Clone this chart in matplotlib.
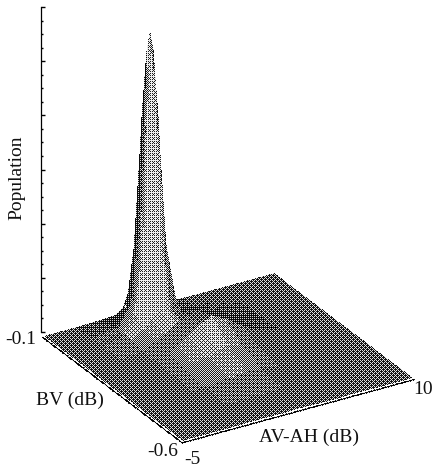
import numpy as np
import matplotlib
matplotlib.use("Agg")
import matplotlib.pyplot as plt

# Values
av_ah = [-5, -3, -1.5, -0.7, -0.2, 0.2, 0.4, 0.6, 0.8, 1.0, 1.4, 2.1, 3, 4, 5, 6.5, 8, 10]
bv = [-0.6, -0.52, -0.44, -0.37, -0.31, -0.26, -0.22, -0.1967, -0.1833, -0.1767,
      -0.17, -0.1633, -0.1567, -0.1433, -0.12, -0.1]
population = [
    [.01, .01, .01, .02, .01, .02, .01, .02, .01, .02, .01, .02, .02, .01, .01, .02, .01, .01],
    [.01, .01, .01, .015, .02, .02, .025, .025, .03, .03, .03, .035, .03, .025, .015, .01, .02, .01],
    [.01, .01, .02, .04, .05, .06, .065, .07, .075, .08, .085, .10, .09, .06, .03, .015, .01, .01],
    [.01, .02, .05, .10, .14, .17, .19, .20, .21, .23, .26, .32, .27, .17, .08, .02, .01, .01],
    [.01, .02, .07, .16, .24, .31, .35, .38, .42, .46, .53, .64, .52, .32, .16, .04, .01, .01],
    [.01, .02, .07, .17, .26, .32, .36, .39, .41, .44, .50, .56, .46, .28, .13, .03, .01, .01],
    [.01, .03, .09, .24, .40, .50, .55, .58, .56, .52, .44, .31, .25, .15, .065, .02, .01, .01],
    [.01, .03, .12, .38, .75, 1.55, 1.80, 1.90, 1.80, 1.55, .75, .33, .16, .09, .04, .02, .01, .01],
    [.01, .025, .12, .45, 1.50, 3.26, 3.91, 4.07, 3.93, 3.28, 1.52, .36, .115, .065, .03, .02, .01, .01],
    [.01, .025, .12, .48, 1.72, 3.90, 4.65, 5.10, 4.66, 3.92, 1.75, .36, .10, .055, .025, .02, .01, .01],
    [.01, .025, .12, .50, 1.82, 4.05, 5.10, 5.42, 5.11, 4.06, 1.85, .35, .09, .05, .02, .015, .01, .01],
    [.01, .025, .12, .46, 1.72, 3.89, 4.64, 5.09, 4.65, 3.91, 1.74, .33, .09, .05, .02, .015, .01, .01],
    [.01, .025, .11, .42, 1.48, 3.24, 3.89, 4.05, 3.90, 3.25, 1.48, .30, .08, .04, .02, .01, .01, .01],
    [.01, .02, .09, .32, .70, 1.50, 1.75, 1.85, 1.75, 1.50, .68, .22, .06, .03, .02, .01, .01, .01],
    [.01, .015, .05, .14, .25, .32, .35, .36, .35, .32, .24, .09, .035, .02, .015, .01, .01, .01],
    [.01, .01, .02, .03, .05, .06, .07, .07, .07, .065, .05, .03, .02, .015, .01, .01, .01, .01],
]
z_major = [0, 1, 2, 3, 4, 5, 6]
z_minor_step = 0.25

W, H = 433, 467
plt.rcParams['font.family'] = ['Liberation Serif', 'DejaVu Serif']

fig = plt.figure(figsize=(W / 100, H / 100), dpi=100)
ax = fig.add_axes([-79.6 / W, -35.6 / H, 600 / W, 600 / H], projection='3d', proj_type='ortho')
ax.computed_zorder = False
ELEV, AZIM = 27, -121
LIGHT_AZ = -108
ax.view_init(elev=ELEV, azim=AZIM)
ax.set_box_aspect((1, 1, 1.37), zoom=0.851)
ax.set_xlim(-5, 10, view_margin=0)
ax.set_ylim(-0.6, -0.1, view_margin=0)
ax.set_zlim(0, 6, view_margin=0)
ax.set_axis_off()

X, Y = np.meshgrid(av_ah, bv)
Z = np.array(population)


def facing(dx, dy, az_deg, elev_deg):
    a, e = np.radians(az_deg), np.radians(elev_deg)
    return (-dx * np.cos(a) * np.cos(e) - dy * np.sin(a) * np.cos(e) + np.sin(e)) / np.sqrt(dx ** 2 + dy ** 2 + 1)


# Facet shading in box coordinates: a low light on the viewer's side
bx, by, bz = X / 15, Y / 0.5, Z * 1.37 / 6
dzx = (bz[:-1, 1:] - bz[:-1, :-1] + bz[1:, 1:] - bz[1:, :-1]) / 2 / (bx[:-1, 1:] - bx[:-1, :-1])
dzy = (bz[1:, :-1] - bz[:-1, :-1] + bz[1:, 1:] - bz[:-1, 1:]) / 2 / (by[1:, :-1] - by[:-1, :-1])
grey = np.clip(0.37 + 0.7 * (facing(dzx, dzy, LIGHT_AZ, 22) - 0.37), 0.22, 0.66)
alpha = (facing(dzx, dzy, AZIM, ELEV) > 0).astype(float)  # facets turned away stay hidden
colors = np.dstack([grey, grey, grey, alpha])

ax.plot_surface(X, Y, Z, rstride=1, cstride=1, facecolors=colors, shade=False,
                linewidth=0, antialiased=False, zsort='min', zorder=1)

# Front edges of the box, standing just off the floor
ax.plot([-5.16, -5.16], [-0.607, -0.1], [0, 0], color='black', lw=1.0, zorder=3)
ax.plot([-5.16, 10], [-0.607, -0.607], [0, 0], color='black', lw=1.0, zorder=3)

# Halftone screen like the scanned print, laid over the surface just drawn
fig.canvas.draw()
tone = np.asarray(fig.canvas.buffer_rgba())[:, :, 0] / 255.0
screen = (np.array([[0, 8, 2, 10], [12, 4, 14, 6], [3, 11, 1, 9], [15, 7, 13, 5]]) + 0.5) / 16
rows, cols = np.indices(tone.shape)
dots = (tone > screen[rows % 4, cols % 4]).astype(float)
mixed = 0.8 * dots + 0.2 * tone
fig.figimage(np.dstack([mixed, mixed, mixed]), origin='upper', zorder=1)

# Population axis
zax = fig.add_axes([41 / W, (H - 332) / H, 8 / W, 325 / H], zorder=2)
zax.patch.set_visible(False)
zax.set_ylim(0, 6)
zax.set_xticks([])
zax.set_yticks(z_major)
zax.set_yticks(np.arange(0, 6 + z_minor_step, z_minor_step), minor=True)
zax.set_yticklabels([])
zax.tick_params(axis='y', which='major', direction='in', length=3, width=1)
zax.tick_params(axis='y', which='minor', direction='in', length=1.6, width=1)
for name in ('top', 'right', 'bottom'):
    zax.spines[name].set_visible(False)
zax.spines['left'].set_linewidth(0.9)

FS = 14
def label(px, py, s, **kw):
    fig.text(px / W, 1 - py / H, s, fontsize=FS, ha='center', va='center', color='#111111', **kw)

label(17, 178, 'Population', rotation=90)
label(21, 339, '-0.1')
label(70, 400, 'BV (dB)')
label(163, 452, '-0.6')
label(192, 459, '-5')
label(309, 437, 'AV-AH (dB)')
label(423, 390, '10')

fig.savefig('out.png', dpi=100)
